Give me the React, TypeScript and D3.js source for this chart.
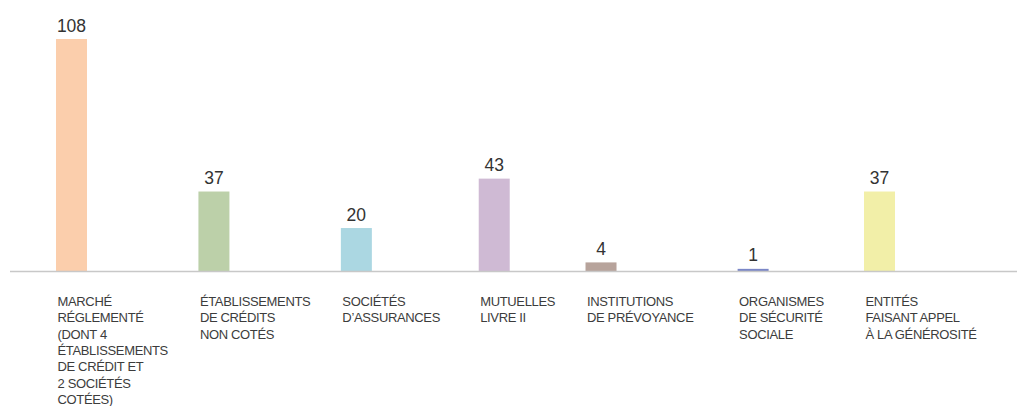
import React, { useMemo } from "react";
import * as d3 from "d3";

const categories: string[][] = [
  ["MARCHÉ", "RÉGLEMENTÉ", "(DONT 4", "ÉTABLISSEMENTS", "DE CRÉDIT ET", "2 SOCIÉTÉS", "COTÉES)"],
  ["ÉTABLISSEMENTS", "DE CRÉDITS", "NON COTÉS"],
  ["SOCIÉTÉS", "D’ASSURANCES"],
  ["MUTUELLES", "LIVRE II"],
  ["INSTITUTIONS", "DE PRÉVOYANCE"],
  ["ORGANISMES", "DE SÉCURITÉ", "SOCIALE"],
  ["ENTITÉS", "FAISANT APPEL", "À LA GÉNÉROSITÉ"],
];
const values: number[] = [108, 37, 20, 43, 4, 1, 37];
const colors: string[] = ["#FBCEAC", "#BCD0A9", "#ABD7E2", "#CFBAD4", "#B7A39B", "#7B87C7", "#F2EFA8"];

// Approximate advance widths (per 1000 em) of the reference's geometric typeface,
// used only to lay out the label columns the way the original did.
const refAdvance: Record<string, number> = {
  A: 740, B: 574, C: 813, D: 744, E: 536, F: 485, G: 872, H: 683, I: 226, L: 462,
  M: 919, N: 740, O: 869, P: 592, R: 607, S: 498, T: 426, U: 655, V: 702, Y: 592,
  "É": 536, "À": 740, "’": 230, " ": 277, "(": 300, ")": 300,
};
const refFontSize = 14.45;

const W = 1018;
const H = 406;
const baseY = 271;
const topY = 39;
const barW = 31;
const firstX = 56;
const lastX = 864;
const fam = "'Liberation Sans', Arial, sans-serif";
const labelSize = 13;
const labelSpacing = -0.35;
const lineH = 16.3;

const refWidth = (s: string) =>
  (d3.sum(Array.from(s), (c) => refAdvance[c] ?? 554) / 1000) * refFontSize;

export default function App() {
  const y = d3.scaleLinear().domain([0, d3.max(values) as number]).range([baseY, topY]);

  const xs = useMemo(() => {
    const widths = categories.map((lines) => d3.max(lines, refWidth) as number);
    const sumW = d3.sum(widths.slice(0, widths.length - 1));
    const gap = (lastX - firstX - sumW) / (widths.length - 1);
    const out: number[] = [];
    let x = firstX;
    widths.forEach((w) => {
      out.push(x);
      x += w + gap;
    });
    return out;
  }, []);

  return (
    <svg
      width={W}
      height={H}
      style={{ position: "absolute", left: 0, top: 0, display: "block", background: "#fff" }}
    >
      {values.map((v, i) => (
        <g key={i}>
          <rect x={xs[i]} y={y(v)} width={barW} height={baseY - y(v)} fill={colors[i]} />
          <text
            x={xs[i] + barW / 2}
            y={y(v) - 7.5}
            textAnchor="middle"
            fontFamily={fam}
            fontSize={17.5}
            fill="#333"
          >
            {v}
          </text>
          <text
            x={xs[i] + 1.5}
            y={306}
            fontFamily={fam}
            fontSize={labelSize}
            letterSpacing={labelSpacing}
            fill="#3c3c3c"
          >
            {categories[i].map((l, j) => (
              <tspan key={j} x={xs[i] + 1.5} y={306 + j * lineH}>
                {l}
              </tspan>
            ))}
          </text>
        </g>
      ))}
      <line x1={10} x2={1017} y1={baseY + 0.5} y2={baseY + 0.5} stroke="#c8c8c8" strokeWidth={1.5} />
    </svg>
  );
}
